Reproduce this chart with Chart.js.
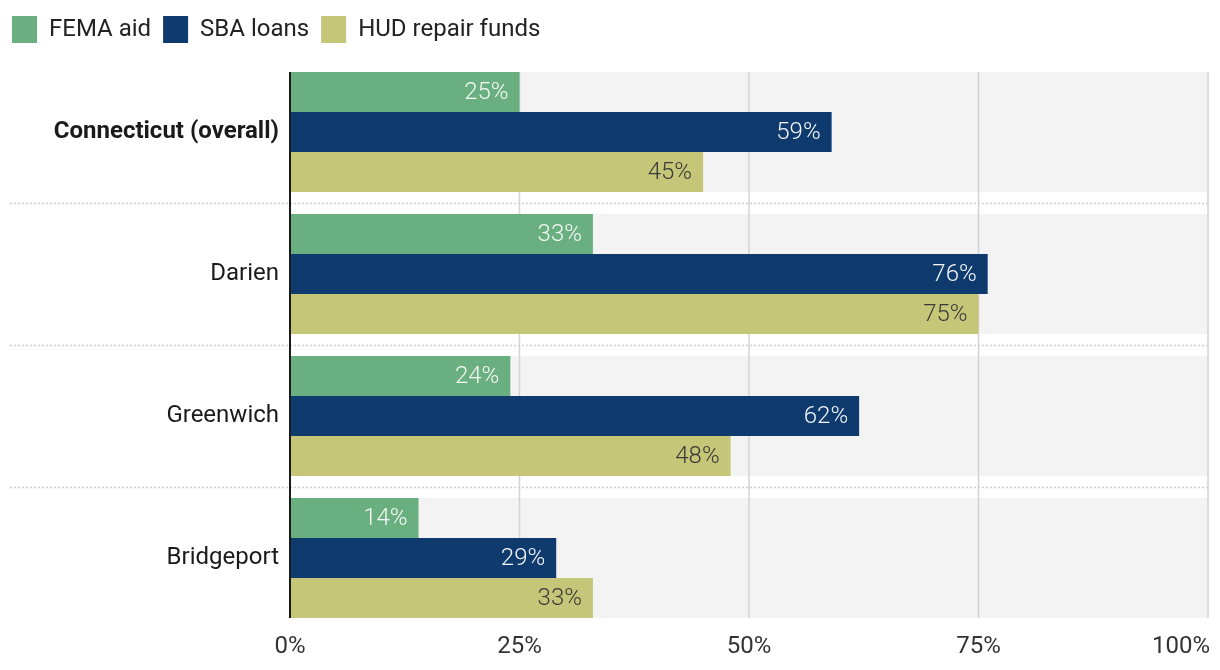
<!DOCTYPE html>
<html>
<head>
<meta charset="utf-8">
<script src="https://cdn.jsdelivr.net/npm/chart.js@4.4.1/dist/chart.umd.min.js"></script>
<style>
  html, body { margin: 0; padding: 0; background: #fff; }
  #wrap { width: 1220px; height: 670px; position: relative; }
</style>
</head>
<body>
<div id="wrap"><canvas id="chart"></canvas></div>
<script>
// Datos (porcentaje de solicitudes aprobadas)
const lugares = ['Connecticut (overall)', 'Darien', 'Greenwich', 'Bridgeport'];
const fema = [25, 33, 24, 14];
const sba = [59, 76, 62, 29];
const hud = [45, 75, 48, 33];
const ticksX = [0, 25, 50, 75, 100];

const FUENTE = 'Roboto, "Noto Sans", sans-serif';
const CAT_PCT = 120 / 142;

// La leyenda queda más separada del área del gráfico
const margenLeyenda = {
  id: 'margenLeyenda',
  afterInit(chart) {
    const lg = chart.legend;
    if (!lg) return;
    const fit = lg.fit;
    lg.fit = function () { fit.call(this); this.height += 8; };
  }
};

// ── Fondo: bandas grises, grilla, separadores punteados ────────────────────
const fondo = {
  id: 'fondo',
  beforeDatasetsDraw(chart) {
    const { ctx, chartArea: a, scales: { x, y } } = chart;
    const paso = y.getPixelForValue(1) - y.getPixelForValue(0);
    const medio = paso * CAT_PCT / 2;
    const arriba = y.getPixelForValue(0) - medio;
    const abajo = y.getPixelForValue(lugares.length - 1) + medio;
    ctx.save();
    ctx.fillStyle = '#f3f3f3';
    lugares.forEach((_, i) => {
      const c = y.getPixelForValue(i);
      ctx.fillRect(a.left, c - medio, a.right - a.left, medio * 2);
    });
    // separadores
    ctx.strokeStyle = '#cfcfcf';
    ctx.lineWidth = 1.5;
    ctx.setLineDash([2, 2]);
    for (let i = 0; i < lugares.length - 1; i++) {
      const yy = Math.round((y.getPixelForValue(i) + y.getPixelForValue(i + 1)) / 2) + 0.5;
      ctx.beginPath();
      ctx.moveTo(10, yy);
      ctx.lineTo(a.right, yy);
      ctx.stroke();
    }
    ctx.setLineDash([]);
    // grilla vertical
    ctx.strokeStyle = '#d3d3d3';
    ctx.lineWidth = 1.5;
    ticksX.slice(1).forEach(v => {
      const xx = x.getPixelForValue(v);
      ctx.beginPath();
      ctx.moveTo(xx, arriba);
      ctx.lineTo(xx, abajo);
      ctx.stroke();
    });
    ctx.restore();
  },
  afterDatasetsDraw(chart) {
    const { ctx, scales: { x, y } } = chart;
    const paso = y.getPixelForValue(1) - y.getPixelForValue(0);
    const medio = paso * CAT_PCT / 2;
    const arriba = y.getPixelForValue(0) - medio;
    const abajo = y.getPixelForValue(lugares.length - 1) + medio;
    ctx.save();
    // etiquetas dentro de las barras
    ctx.font = '300 24px ' + FUENTE;
    ctx.textAlign = 'right';
    ctx.textBaseline = 'middle';
    chart.data.datasets.forEach((ds, di) => {
      const meta = chart.getDatasetMeta(di);
      ctx.fillStyle = ds.labelColor;
      meta.data.forEach((bar, i) => {
        ctx.fillText(ds.data[i] + '%', bar.x - 11, bar.y + 1);
      });
    });
    // eje en 0
    const x0 = x.getPixelForValue(0);
    ctx.strokeStyle = '#1a1a1a';
    ctx.lineWidth = 2;
    ctx.beginPath();
    ctx.moveTo(x0, arriba);
    ctx.lineTo(x0, abajo);
    ctx.stroke();
    // etiquetas del eje x (la última se corre para que entre)
    ctx.font = '24px ' + FUENTE;
    ctx.fillStyle = '#333';
    ctx.textAlign = 'center';
    ctx.textBaseline = 'middle';
    ticksX.forEach(v => {
      const txt = v + '%';
      const w = ctx.measureText(txt).width;
      let xx = x.getPixelForValue(v);
      if (xx + w / 2 > chart.width - 10) xx = chart.width - 10 - w / 2;
      ctx.fillText(txt, xx, abajo + 29);
    });
    ctx.restore();
  }
};

new Chart(document.getElementById('chart'), {
  type: 'bar',
  data: {
    labels: lugares,
    datasets: [
      { label: 'FEMA aid', data: fema, backgroundColor: '#6aaf80', labelColor: '#f4f8f4' },
      { label: 'SBA loans', data: sba, backgroundColor: '#0e3a6e', labelColor: '#f4f6fa' },
      { label: 'HUD repair funds', data: hud, backgroundColor: '#c5c678', labelColor: '#3a3a3a' },
    ],
  },
  options: {
    indexAxis: 'y',
    responsive: true,
    maintainAspectRatio: false,
    animation: false,
    events: [],
    datasets: { bar: { barPercentage: 1, categoryPercentage: CAT_PCT, borderWidth: 0 } },
    layout: { padding: { top: 4, right: 12, bottom: 33, left: 0 } },
    plugins: {
      tooltip: { enabled: false },
      legend: {
        position: 'top',
        align: 'start',
        labels: {
          boxWidth: 25,
          boxHeight: 27,
          padding: 12,
          color: '#222',
          font: { family: FUENTE, size: 24 },
        },
      },
    },
    scales: {
      x: {
        min: 0, max: 100,
        ticks: { display: false, stepSize: 25 },
        grid: { display: false },
        border: { display: false },
      },
      y: {
        offset: true,
        grid: { display: false, drawTicks: false },
        border: { display: false },
        ticks: {
          padding: 11,
          color: '#1a1a1a',
          font: ctx => ({ family: FUENTE, size: 24, weight: ctx.index === 0 ? 'bold' : 'normal' }),
        },
        afterFit: s => { s.width = 290; },
      },
    },
  },
  plugins: [margenLeyenda, fondo],
});
</script>
</body>
</html>
